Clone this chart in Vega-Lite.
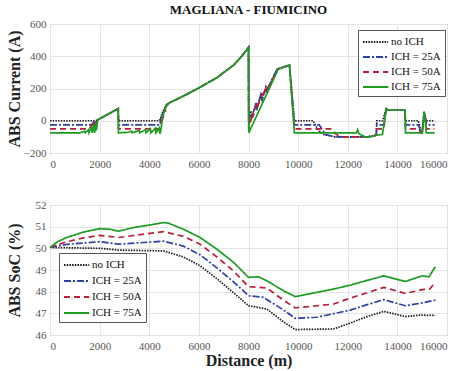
{
  "$schema": "https://vega.github.io/schema/vega-lite/v6.json",
  "padding": {"left": 5, "top": 3, "right": 5, "bottom": 0},
  "spacing": 28,
  "datasets": {
    "cur": [
      {"s":"no ICH","x":0,"y":0},{"s":"no ICH","x":1800,"y":0},{"s":"no ICH","x":1900,"y":5},{"s":"no ICH","x":2000,"y":12},{"s":"no ICH","x":2750,"y":75},{"s":"no ICH","x":2760,"y":0},{"s":"no ICH","x":4400,"y":0},{"s":"no ICH","x":4450,"y":10},{"s":"no ICH","x":4550,"y":60},{"s":"no ICH","x":4700,"y":100},{"s":"no ICH","x":4800,"y":110},{"s":"no ICH","x":5400,"y":155},{"s":"no ICH","x":6050,"y":208},{"s":"no ICH","x":6725,"y":267},{"s":"no ICH","x":7400,"y":345},{"s":"no ICH","x":7700,"y":395},{"s":"no ICH","x":8000,"y":455},{"s":"no ICH","x":8010,"y":0},{"s":"no ICH","x":8100,"y":60},{"s":"no ICH","x":8150,"y":30},{"s":"no ICH","x":8300,"y":110},{"s":"no ICH","x":8350,"y":80},{"s":"no ICH","x":8500,"y":160},{"s":"no ICH","x":8550,"y":130},{"s":"no ICH","x":8700,"y":210},{"s":"no ICH","x":8750,"y":190},{"s":"no ICH","x":9150,"y":320},{"s":"no ICH","x":9650,"y":345},{"s":"no ICH","x":9850,"y":0},{"s":"no ICH","x":10600,"y":0},{"s":"no ICH","x":10800,"y":-55},{"s":"no ICH","x":11000,"y":-85},{"s":"no ICH","x":11500,"y":-100},{"s":"no ICH","x":12800,"y":-100},{"s":"no ICH","x":13150,"y":-90},{"s":"no ICH","x":13170,"y":0},{"s":"no ICH","x":13400,"y":0},{"s":"no ICH","x":13550,"y":75},{"s":"no ICH","x":13650,"y":65},{"s":"no ICH","x":14300,"y":65},{"s":"no ICH","x":14330,"y":0},{"s":"no ICH","x":14850,"y":0},{"s":"no ICH","x":14950,"y":-75},{"s":"no ICH","x":15000,"y":-75},{"s":"no ICH","x":15080,"y":55},{"s":"no ICH","x":15170,"y":0},{"s":"no ICH","x":15500,"y":0},

      {"s":"ICH = 25A","x":0,"y":-25},{"s":"ICH = 25A","x":1700,"y":-25},{"s":"ICH = 25A","x":1750,"y":-10},{"s":"ICH = 25A","x":1770,"y":-25},{"s":"ICH = 25A","x":1850,"y":0},{"s":"ICH = 25A","x":1880,"y":-25},{"s":"ICH = 25A","x":1950,"y":8},{"s":"ICH = 25A","x":2000,"y":12},{"s":"ICH = 25A","x":2750,"y":75},{"s":"ICH = 25A","x":2760,"y":-25},{"s":"ICH = 25A","x":4420,"y":-25},{"s":"ICH = 25A","x":4500,"y":30},{"s":"ICH = 25A","x":4520,"y":10},{"s":"ICH = 25A","x":4600,"y":70},{"s":"ICH = 25A","x":4620,"y":55},{"s":"ICH = 25A","x":4700,"y":100},{"s":"ICH = 25A","x":4800,"y":110},{"s":"ICH = 25A","x":5400,"y":155},{"s":"ICH = 25A","x":6050,"y":208},{"s":"ICH = 25A","x":6725,"y":267},{"s":"ICH = 25A","x":7400,"y":345},{"s":"ICH = 25A","x":7700,"y":395},{"s":"ICH = 25A","x":8000,"y":455},{"s":"ICH = 25A","x":8010,"y":-25},{"s":"ICH = 25A","x":8100,"y":40},{"s":"ICH = 25A","x":8130,"y":20},{"s":"ICH = 25A","x":8300,"y":100},{"s":"ICH = 25A","x":8330,"y":80},{"s":"ICH = 25A","x":8500,"y":160},{"s":"ICH = 25A","x":8530,"y":140},{"s":"ICH = 25A","x":8700,"y":200},{"s":"ICH = 25A","x":8730,"y":185},{"s":"ICH = 25A","x":9150,"y":320},{"s":"ICH = 25A","x":9650,"y":345},{"s":"ICH = 25A","x":9850,"y":-25},{"s":"ICH = 25A","x":10850,"y":-25},{"s":"ICH = 25A","x":11100,"y":-85},{"s":"ICH = 25A","x":11500,"y":-100},{"s":"ICH = 25A","x":12800,"y":-100},{"s":"ICH = 25A","x":13150,"y":-90},{"s":"ICH = 25A","x":13170,"y":-25},{"s":"ICH = 25A","x":13450,"y":-25},{"s":"ICH = 25A","x":13550,"y":75},{"s":"ICH = 25A","x":13650,"y":65},{"s":"ICH = 25A","x":14300,"y":65},{"s":"ICH = 25A","x":14330,"y":-25},{"s":"ICH = 25A","x":14850,"y":-25},{"s":"ICH = 25A","x":14950,"y":-75},{"s":"ICH = 25A","x":15000,"y":-75},{"s":"ICH = 25A","x":15080,"y":55},{"s":"ICH = 25A","x":15170,"y":-25},{"s":"ICH = 25A","x":15500,"y":-25},

      {"s":"ICH = 50A","x":0,"y":-50},{"s":"ICH = 50A","x":1600,"y":-50},{"s":"ICH = 50A","x":1650,"y":-30},{"s":"ICH = 50A","x":1670,"y":-50},{"s":"ICH = 50A","x":1750,"y":-15},{"s":"ICH = 50A","x":1770,"y":-50},{"s":"ICH = 50A","x":1850,"y":0},{"s":"ICH = 50A","x":1870,"y":-40},{"s":"ICH = 50A","x":1950,"y":8},{"s":"ICH = 50A","x":2000,"y":12},{"s":"ICH = 50A","x":2750,"y":75},{"s":"ICH = 50A","x":2760,"y":-50},{"s":"ICH = 50A","x":4430,"y":-50},{"s":"ICH = 50A","x":4520,"y":30},{"s":"ICH = 50A","x":4540,"y":10},{"s":"ICH = 50A","x":4620,"y":70},{"s":"ICH = 50A","x":4640,"y":55},{"s":"ICH = 50A","x":4720,"y":100},{"s":"ICH = 50A","x":4800,"y":110},{"s":"ICH = 50A","x":5400,"y":155},{"s":"ICH = 50A","x":6050,"y":208},{"s":"ICH = 50A","x":6725,"y":267},{"s":"ICH = 50A","x":7400,"y":345},{"s":"ICH = 50A","x":7700,"y":395},{"s":"ICH = 50A","x":8000,"y":455},{"s":"ICH = 50A","x":8010,"y":-50},{"s":"ICH = 50A","x":8150,"y":40},{"s":"ICH = 50A","x":8170,"y":20},{"s":"ICH = 50A","x":8350,"y":110},{"s":"ICH = 50A","x":8370,"y":90},{"s":"ICH = 50A","x":8550,"y":170},{"s":"ICH = 50A","x":8570,"y":150},{"s":"ICH = 50A","x":8750,"y":215},{"s":"ICH = 50A","x":8770,"y":200},{"s":"ICH = 50A","x":9180,"y":320},{"s":"ICH = 50A","x":9650,"y":345},{"s":"ICH = 50A","x":9850,"y":-50},{"s":"ICH = 50A","x":11350,"y":-50},{"s":"ICH = 50A","x":11500,"y":-80},{"s":"ICH = 50A","x":11700,"y":-100},{"s":"ICH = 50A","x":12800,"y":-100},{"s":"ICH = 50A","x":13150,"y":-90},{"s":"ICH = 50A","x":13170,"y":-50},{"s":"ICH = 50A","x":13450,"y":-50},{"s":"ICH = 50A","x":13550,"y":75},{"s":"ICH = 50A","x":13650,"y":65},{"s":"ICH = 50A","x":14300,"y":65},{"s":"ICH = 50A","x":14330,"y":-50},{"s":"ICH = 50A","x":14850,"y":-50},{"s":"ICH = 50A","x":14950,"y":-75},{"s":"ICH = 50A","x":15000,"y":-75},{"s":"ICH = 50A","x":15080,"y":55},{"s":"ICH = 50A","x":15170,"y":-50},{"s":"ICH = 50A","x":15500,"y":-50},

      {"s":"ICH = 75A","x":0,"y":-75},{"s":"ICH = 75A","x":1200,"y":-75},{"s":"ICH = 75A","x":1400,"y":-65},{"s":"ICH = 75A","x":1420,"y":-75},{"s":"ICH = 75A","x":1550,"y":-55},{"s":"ICH = 75A","x":1570,"y":-75},{"s":"ICH = 75A","x":1680,"y":-40},{"s":"ICH = 75A","x":1700,"y":-75},{"s":"ICH = 75A","x":1780,"y":-25},{"s":"ICH = 75A","x":1800,"y":-75},{"s":"ICH = 75A","x":1850,"y":-10},{"s":"ICH = 75A","x":1870,"y":-60},{"s":"ICH = 75A","x":1920,"y":5},{"s":"ICH = 75A","x":2000,"y":12},{"s":"ICH = 75A","x":2750,"y":75},{"s":"ICH = 75A","x":2760,"y":-75},{"s":"ICH = 75A","x":3000,"y":-72},{"s":"ICH = 75A","x":3020,"y":-75},{"s":"ICH = 75A","x":3300,"y":-65},{"s":"ICH = 75A","x":3320,"y":-75},{"s":"ICH = 75A","x":3600,"y":-60},{"s":"ICH = 75A","x":3620,"y":-75},{"s":"ICH = 75A","x":3850,"y":-55},{"s":"ICH = 75A","x":3870,"y":-75},{"s":"ICH = 75A","x":4050,"y":-50},{"s":"ICH = 75A","x":4070,"y":-75},{"s":"ICH = 75A","x":4250,"y":-45},{"s":"ICH = 75A","x":4270,"y":-75},{"s":"ICH = 75A","x":4400,"y":-45},{"s":"ICH = 75A","x":4420,"y":-75},{"s":"ICH = 75A","x":4450,"y":-75},{"s":"ICH = 75A","x":4550,"y":30},{"s":"ICH = 75A","x":4650,"y":80},{"s":"ICH = 75A","x":4800,"y":110},{"s":"ICH = 75A","x":5400,"y":155},{"s":"ICH = 75A","x":6050,"y":208},{"s":"ICH = 75A","x":6725,"y":267},{"s":"ICH = 75A","x":7400,"y":345},{"s":"ICH = 75A","x":7700,"y":395},{"s":"ICH = 75A","x":8000,"y":455},{"s":"ICH = 75A","x":8010,"y":-75},{"s":"ICH = 75A","x":9200,"y":320},{"s":"ICH = 75A","x":9650,"y":345},{"s":"ICH = 75A","x":9850,"y":-75},{"s":"ICH = 75A","x":12350,"y":-75},{"s":"ICH = 75A","x":12400,"y":-55},{"s":"ICH = 75A","x":12450,"y":-80},{"s":"ICH = 75A","x":12700,"y":-100},{"s":"ICH = 75A","x":12900,"y":-100},{"s":"ICH = 75A","x":13150,"y":-90},{"s":"ICH = 75A","x":13400,"y":-85},{"s":"ICH = 75A","x":13550,"y":75},{"s":"ICH = 75A","x":13650,"y":65},{"s":"ICH = 75A","x":14300,"y":65},{"s":"ICH = 75A","x":14330,"y":-75},{"s":"ICH = 75A","x":15000,"y":-75},{"s":"ICH = 75A","x":15080,"y":55},{"s":"ICH = 75A","x":15170,"y":-75},{"s":"ICH = 75A","x":15500,"y":-75}
    ],
    "soc": [
      {"s":"no ICH","x":0,"y":50.04},{"s":"no ICH","x":2017,"y":50.0},{"s":"no ICH","x":2760,"y":49.92},{"s":"no ICH","x":4575,"y":49.88},{"s":"no ICH","x":5380,"y":49.6},{"s":"no ICH","x":6050,"y":49.19},{"s":"no ICH","x":6725,"y":48.6},{"s":"no ICH","x":7400,"y":47.95},{"s":"no ICH","x":8000,"y":47.35},{"s":"no ICH","x":8740,"y":47.2},{"s":"no ICH","x":9415,"y":46.6},{"s":"no ICH","x":9886,"y":46.25},{"s":"no ICH","x":11430,"y":46.28},{"s":"no ICH","x":12100,"y":46.55},{"s":"no ICH","x":12780,"y":46.85},{"s":"no ICH","x":13450,"y":47.09},{"s":"no ICH","x":14320,"y":46.85},{"s":"no ICH","x":14930,"y":46.92},{"s":"no ICH","x":15530,"y":46.9},

      {"s":"ICH = 25A","x":0,"y":50.05},{"s":"ICH = 25A","x":670,"y":50.18},{"s":"ICH = 25A","x":2017,"y":50.31},{"s":"ICH = 25A","x":2760,"y":50.19},{"s":"ICH = 25A","x":4575,"y":50.33},{"s":"ICH = 25A","x":5380,"y":50.1},{"s":"ICH = 25A","x":6050,"y":49.7},{"s":"ICH = 25A","x":6725,"y":49.1},{"s":"ICH = 25A","x":7400,"y":48.45},{"s":"ICH = 25A","x":8000,"y":47.81},{"s":"ICH = 25A","x":8600,"y":47.74},{"s":"ICH = 25A","x":9415,"y":47.15},{"s":"ICH = 25A","x":9886,"y":46.77},{"s":"ICH = 25A","x":10760,"y":46.82},{"s":"ICH = 25A","x":12100,"y":47.15},{"s":"ICH = 25A","x":12780,"y":47.4},{"s":"ICH = 25A","x":13450,"y":47.63},{"s":"ICH = 25A","x":14320,"y":47.35},{"s":"ICH = 25A","x":15000,"y":47.48},{"s":"ICH = 25A","x":15530,"y":47.61},

      {"s":"ICH = 50A","x":0,"y":50.05},{"s":"ICH = 50A","x":670,"y":50.3},{"s":"ICH = 50A","x":1345,"y":50.48},{"s":"ICH = 50A","x":2017,"y":50.6},{"s":"ICH = 50A","x":2760,"y":50.5},{"s":"ICH = 50A","x":4575,"y":50.77},{"s":"ICH = 50A","x":5380,"y":50.55},{"s":"ICH = 50A","x":6050,"y":50.19},{"s":"ICH = 50A","x":6725,"y":49.6},{"s":"ICH = 50A","x":7400,"y":48.95},{"s":"ICH = 50A","x":8000,"y":48.23},{"s":"ICH = 50A","x":8740,"y":48.17},{"s":"ICH = 50A","x":9415,"y":47.6},{"s":"ICH = 50A","x":9886,"y":47.25},{"s":"ICH = 50A","x":11430,"y":47.43},{"s":"ICH = 50A","x":12100,"y":47.7},{"s":"ICH = 50A","x":12780,"y":47.95},{"s":"ICH = 50A","x":13450,"y":48.2},{"s":"ICH = 50A","x":14320,"y":47.92},{"s":"ICH = 50A","x":15000,"y":48.09},{"s":"ICH = 50A","x":15300,"y":48.12},{"s":"ICH = 50A","x":15530,"y":48.43},

      {"s":"ICH = 75A","x":0,"y":50.04},{"s":"ICH = 75A","x":300,"y":50.3},{"s":"ICH = 75A","x":670,"y":50.5},{"s":"ICH = 75A","x":1345,"y":50.75},{"s":"ICH = 75A","x":2017,"y":50.91},{"s":"ICH = 75A","x":2420,"y":50.88},{"s":"ICH = 75A","x":2760,"y":50.79},{"s":"ICH = 75A","x":3360,"y":50.96},{"s":"ICH = 75A","x":4035,"y":51.08},{"s":"ICH = 75A","x":4575,"y":51.19},{"s":"ICH = 75A","x":4775,"y":51.16},{"s":"ICH = 75A","x":5380,"y":50.88},{"s":"ICH = 75A","x":6050,"y":50.5},{"s":"ICH = 75A","x":6725,"y":49.96},{"s":"ICH = 75A","x":7400,"y":49.35},{"s":"ICH = 75A","x":8000,"y":48.66},{"s":"ICH = 75A","x":8400,"y":48.69},{"s":"ICH = 75A","x":8740,"y":48.5},{"s":"ICH = 75A","x":9415,"y":48.04},{"s":"ICH = 75A","x":9886,"y":47.77},{"s":"ICH = 75A","x":10760,"y":47.97},{"s":"ICH = 75A","x":11430,"y":48.12},{"s":"ICH = 75A","x":12100,"y":48.3},{"s":"ICH = 75A","x":12780,"y":48.52},{"s":"ICH = 75A","x":13450,"y":48.73},{"s":"ICH = 75A","x":14320,"y":48.47},{"s":"ICH = 75A","x":15000,"y":48.73},{"s":"ICH = 75A","x":15270,"y":48.68},{"s":"ICH = 75A","x":15530,"y":49.15}
    ]
  },
  "vconcat": [
    {
      "width": 397, "height": 129,
      "title": {"text": "MAGLIANA - FIUMICINO", "fontSize": 13, "fontWeight": "bold", "font": "Liberation Serif", "offset": 1, "color": "#111"},
      "data": {"name": "cur"},
      "mark": {"type": "line", "strokeWidth": 1.7},
      "encoding": {
        "x": {"field": "x", "type": "quantitative", "scale": {"domain": [0, 16000], "nice": false}, "axis": {"title": null, "values": [0,2000,4000,6000,8000,10000,12000,14000,16000], "format": "d"}},
        "y": {"field": "y", "type": "quantitative", "scale": {"domain": [-200, 600], "nice": false}, "axis": {"title": "ABS Current (A)", "values": [-200,0,200,400,600]}},
        "color": {"field": "s", "type": "nominal", "scale": {"domain": ["no ICH","ICH = 25A","ICH = 50A","ICH = 75A"], "range": ["#1a1a1a","#2b40a0","#b81f3a","#1f9a22"]}, "legend": {"title": null, "orient": "none", "legendX": 308, "legendY": 6}},
        "strokeDash": {"field": "s", "type": "nominal", "scale": {"domain": ["no ICH","ICH = 25A","ICH = 50A","ICH = 75A"], "range": [[1.5,1.2],[7,2,2,2],[6,4],[1,0]]}, "legend": {"title": null, "orient": "none", "legendX": 308, "legendY": 6}}
      }
    },
    {
      "width": 397, "height": 130,
      "data": {"name": "soc"},
      "mark": {"type": "line", "strokeWidth": 1.7},
      "encoding": {
        "x": {"field": "x", "type": "quantitative", "scale": {"domain": [0, 16000], "nice": false}, "axis": {"title": "Distance (m)", "titleFontSize": 16, "values": [0,2000,4000,6000,8000,10000,12000,14000,16000], "format": "d", "titlePadding": 1}},
        "y": {"field": "y", "type": "quantitative", "scale": {"domain": [46, 52], "nice": false, "zero": false}, "axis": {"title": "ABS SoC (%)", "values": [46,47,48,49,50,51,52]}},
        "color": {"field": "s", "type": "nominal", "scale": {"domain": ["no ICH","ICH = 25A","ICH = 50A","ICH = 75A"], "range": ["#1a1a1a","#2b40a0","#b81f3a","#1f9a22"]}, "legend": {"title": null, "orient": "none", "legendX": 9, "legendY": 48, "rowPadding": 3}},
        "strokeDash": {"field": "s", "type": "nominal", "scale": {"domain": ["no ICH","ICH = 25A","ICH = 50A","ICH = 75A"], "range": [[1.5,1.2],[7,2,2,2],[6,4],[1,0]]}, "legend": {"title": null, "orient": "none", "legendX": 9, "legendY": 48, "rowPadding": 3}}
      }
    }
  ],
  "resolve": {"scale": {"color": "independent", "strokeDash": "independent"}, "legend": {"color": "independent", "strokeDash": "independent"}},
  "config": {
    "font": "Liberation Serif",
    "view": {"stroke": "#666"},
    "axis": {"labelFont": "Liberation Serif", "labelFontSize": 11, "labelColor": "#555", "titleFont": "Liberation Serif", "titleFontSize": 16, "titleFontWeight": "bold", "titleColor": "#222", "gridColor": "#e3e3e3", "domain": false, "ticks": false, "labelPadding": 5},
    "axisY": {"minExtent": 24, "maxExtent": 24, "titlePadding": 4, "labelPadding": 4},
    "legend": {"labelFont": "Liberation Serif", "labelFontSize": 11, "labelColor": "#111", "fillColor": "white", "strokeColor": "#555", "padding": 4, "symbolType": "M-1,0H2.6", "symbolSize": 196, "symbolStrokeWidth": 1.8, "rowPadding": 2, "labelOffset": 13}
  }
}
